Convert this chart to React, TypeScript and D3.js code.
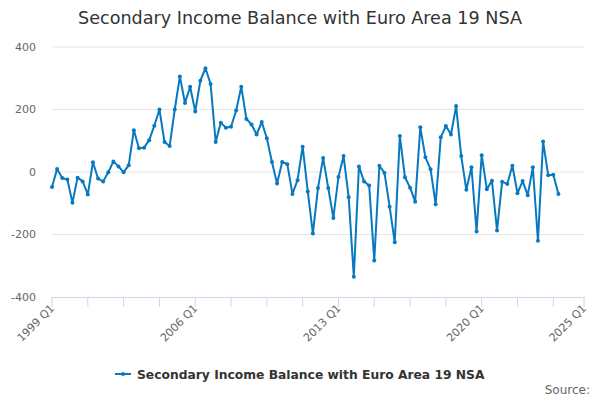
import React from "react";
import { scaleLinear, line } from "d3";

// quarters from 1999 Q1 to 2025 Q1 (axis extent)
const categories: string[] = [];
for (let y = 1999; y <= 2025; y++) {
  for (let q = 1; q <= 4; q++) {
    if (y === 2025 && q > 1) break;
    categories.push(`${y} Q${q}`);
  }
}

// 1999 Q1 .. 2023 Q4
const values = [
  -48, 10, -19, -24, -98, -18, -30, -72, 31, -21,
  -30, -1, 34, 18, -1, 22, 134, 76, 78, 102,
  148, 200, 96, 83, 200, 306, 221, 273, 194, 292,
  332, 282, 96, 158, 142, 145, 197, 273, 170, 152,
  120, 160, 108, 32, -37, 32, 25, -70, -26, 81,
  -62, -197, -51, 45, -51, -147, -16, 51, -81, -335,
  18, -30, -43, -283, 20, -3, -111, -225, 115, -17,
  -50, -95, 143, 47, 9, -103, 111, 147, 120, 211,
  51, -57, 15, -190, 54, -55, -28, -187, -31, -38,
  20, -68, -29, -74, 15, -220, 98, -10, -9, -70
];

const yTicks = [-400, -200, 0, 200, 400];
const xLabels = ["1999 Q1", "2006 Q1", "2013 Q1", "2020 Q1", "2025 Q1"];

const title = "Secondary Income Balance with Euro Area 19 NSA";
const seriesName = "Secondary Income Balance with Euro Area 19 NSA";
const color = "#0879c1";
const font = "'DejaVu Sans', sans-serif";

export default function App() {
  const x = scaleLinear().domain([0, categories.length - 1]).range([52, 584]);
  const y = scaleLinear().domain([-400, 400]).range([297, 47]);

  const tickIdx = categories
    .map((_, i) => i)
    .filter((i) => i % 7 === 0 || i === categories.length - 1);

  const path = line<number>()
    .x((_, i) => x(i))
    .y((d) => y(d))(values);

  return (
    <svg width={600} height={400} style={{ display: "block", fontFamily: font }}>
      <style>{`body{margin:0}`}</style>
      <rect width={600} height={400} fill="#fff" />
      <text x={300} y={24} textAnchor="middle" fontSize={17.6} fill="#333">
        {title}
      </text>

      {/* grid + y labels */}
      {yTicks.map((t) => (
        <g key={t}>
          {t !== -400 && (
            <line x1={52} x2={584} y1={y(t)} y2={y(t)} stroke="#e6e6e6" />
          )}
          <text x={36} y={y(t)} dy="0.35em" textAnchor="end" fontSize={11} fill="#666">
            {t}
          </text>
        </g>
      ))}

      {/* x axis */}
      <line x1={51} x2={585} y1={297.5} y2={297.5} stroke="#ccd6eb" />
      {tickIdx.map((i) => (
        <line key={i} x1={x(i)} x2={x(i)} y1={297} y2={307} stroke="#ccd6eb" />
      ))}
      {categories.map((c, i) =>
        xLabels.includes(c) ? (
          <text
            key={c}
            transform={`translate(${x(i) + 3},${309}) rotate(-45)`}
            textAnchor="end"
            fontSize={11}
            fill="#666"
          >
            {c}
          </text>
        ) : null
      )}

      {/* series */}
      <path d={path ?? ""} fill="none" stroke={color} strokeWidth={2} strokeLinejoin="round" />
      {values.map((v, i) => (
        <circle key={i} cx={x(i)} cy={y(v)} r={2} fill={color} />
      ))}

      {/* legend */}
      <line x1={115} x2={131} y1={374} y2={374} stroke={color} strokeWidth={2} />
      <circle cx={123} cy={374} r={2} fill={color} />
      <text x={137} y={378.5} fontSize={12.3} fontWeight="bold" fill="#333">
        {seriesName}
      </text>

      <text x={590} y={394} textAnchor="end" fontSize={12} fill="#666">
        Source:
      </text>
    </svg>
  );
}
